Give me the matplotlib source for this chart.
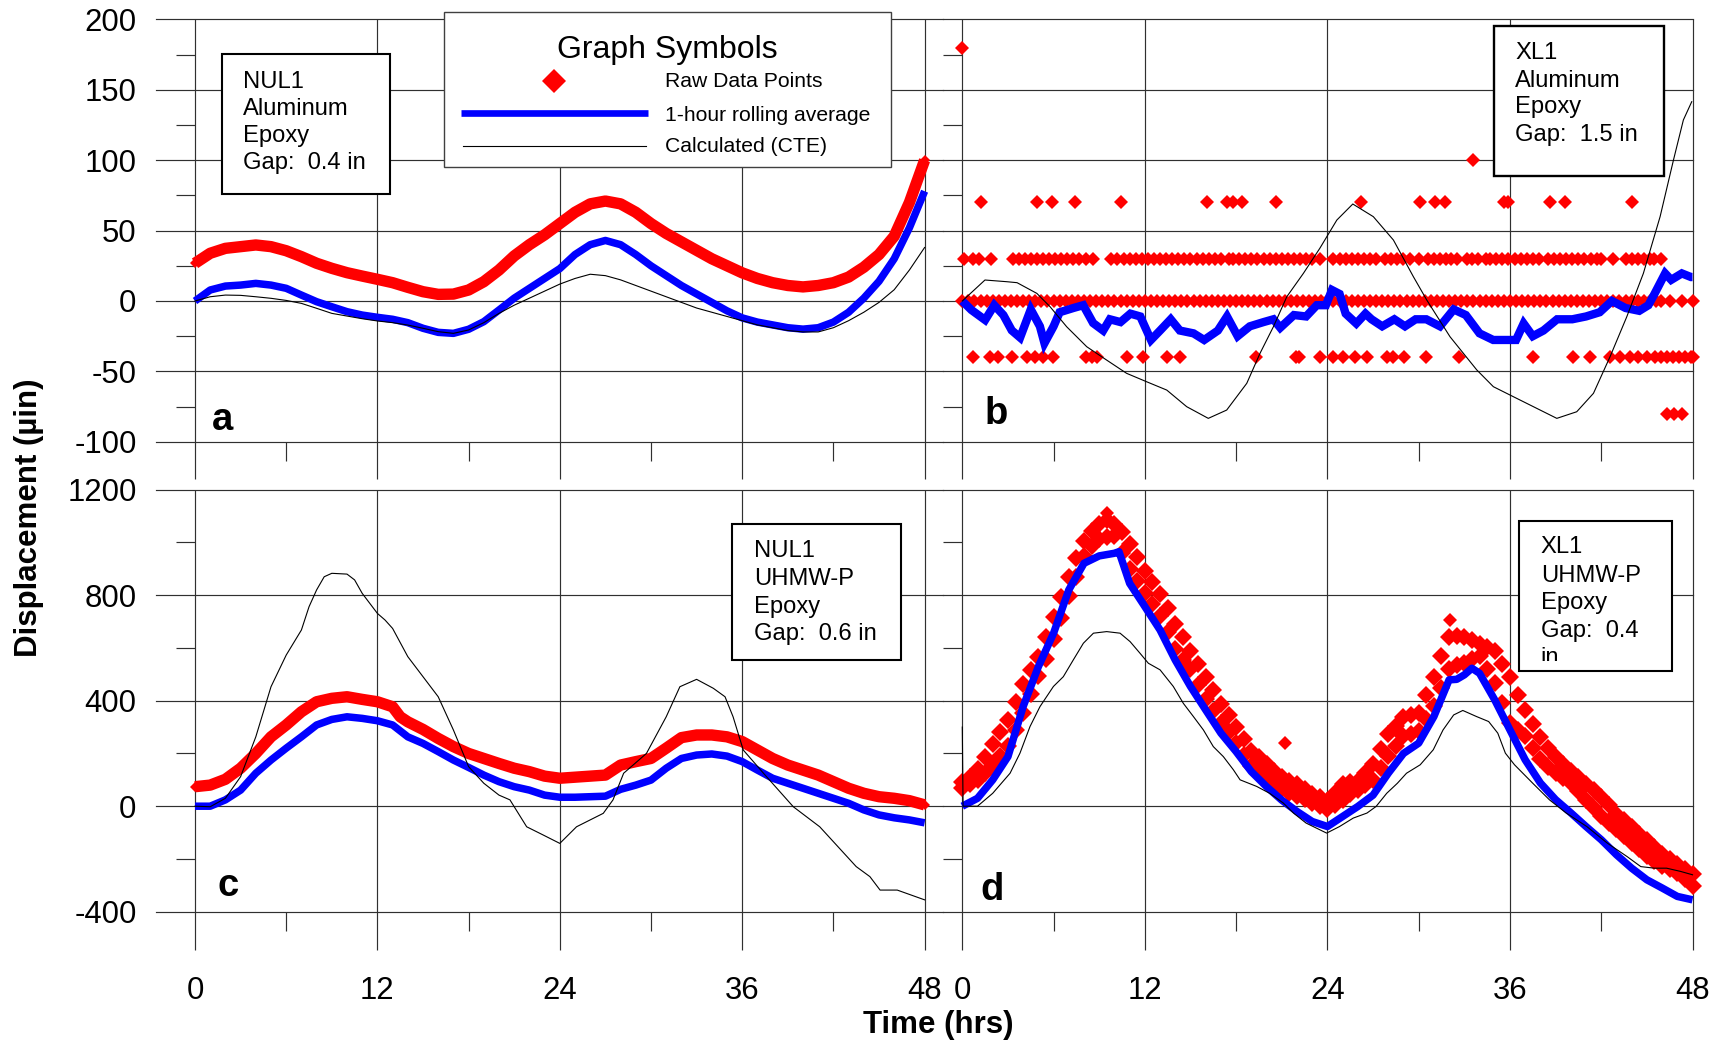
import matplotlib
matplotlib.use("Agg")
import matplotlib.pyplot as plt
from matplotlib.patches import Rectangle
from matplotlib.lines import Line2D
from matplotlib.transforms import Bbox

plt.rcParams['font.family'] = ['Liberation Sans', 'DejaVu Sans']

# ---------------------------------------------------------------- data
hours = [0, 1, 2, 3, 4, 5, 6, 7, 8, 9, 10, 11, 12, 13, 14, 15, 16, 17, 18, 19, 20,
         21, 22, 23, 24, 25, 26, 27, 28, 29, 30, 31, 32, 33, 34, 35, 36, 37, 38, 39,
         40, 41, 42, 43, 44, 45, 46, 47, 48]
x_major = [0, 12, 24, 36, 48]
x_minor = [6, 18, 30, 42]
x_ticklabels = ['0', '12', '24', '36', '48']

# panel a : NUL1 / Aluminum
a_yticks = [200, 150, 100, 50, 0, -50, -100]
a_yminor = [175, 125, 75, 25, -25, -75]
a_raw = [26.8, 33.9, 37.4, 38.6, 39.8, 38.6, 35.7, 31.5, 26.8, 23.2, 20.1, 17.7, 15.4,
         13.0, 9.7, 6.6, 4.7, 4.9, 7.8, 13.7, 22.0, 32, 40, 47, 55, 63, 69, 71, 69, 63,
         55, 48, 42, 36, 30, 25, 20, 16, 13, 11, 10, 11, 13, 17, 24, 33, 46, 70, 100]
a_avg = [0, 7.8, 10.6, 11.3, 12.5, 11.3, 9.0, 4.2, -0.5, -4.1, -7.6, -10, -11.6, -13,
         -15.4, -19.4, -22.3, -23, -20.1, -14.7, -6.4, 2, 9, 16, 23, 33, 40, 43, 40, 33,
         25, 18, 11, 5, -1, -7, -12, -15, -17, -19, -20, -19, -15, -8, 2, 14, 30, 52, 78]
a_cte = [0, 3, 4.2, 4, 3, 1.9, 0.4, -1.7, -5.2, -8.8, -10.7, -12.6, -14.2, -15.4, -17.1,
         -19.4, -21.8, -23, -20.6, -15.4, -8.8, -3, 2, 7, 12, 16, 19, 18, 15, 11, 7, 3,
         -1, -5, -8, -11, -14, -17, -19, -21, -22, -22, -19, -14, -8, -1, 8, 22, 38]

# panel b : XL1 / Aluminum (quantised raw readings, listed per level)
b_raw_0 = [0.0, 0.4, 0.8, 1.2, 1.6, 2.0, 2.4, 2.8, 3.2, 3.6, 4.0, 4.4, 4.8, 5.2, 5.6,
           6.0, 6.4, 6.8, 7.2, 7.6, 8.0, 8.4, 8.8, 9.2, 9.6, 10.0, 10.4, 10.8, 11.2,
           11.6, 12.0, 12.4, 12.8, 13.2, 13.6, 14.0, 14.4, 14.8, 15.2, 15.6, 16.0, 16.4,
           16.8, 17.2, 17.6, 18.0, 18.4, 18.8, 19.2, 19.6, 20.0, 20.4, 20.8, 21.2, 21.6,
           22.0, 22.4, 22.8, 23.2, 23.6, 24.0, 24.4, 24.8, 25.2, 25.6, 26.0, 26.4, 26.8,
           27.2, 27.6, 28.0, 28.4, 28.8, 29.2, 29.6, 30.0, 30.4, 30.8, 31.2, 31.6, 32.0,
           32.4, 32.8, 33.2, 33.6, 34.0, 34.4, 34.8, 35.2, 35.6, 36.0, 36.4, 36.8, 37.2,
           37.6, 38.0, 38.4, 38.8, 39.2, 39.6, 40.0, 40.4, 40.8, 41.2, 41.6, 42.0, 42.4,
           42.8, 43.2, 43.6, 44.0, 44.4, 44.8, 45.2, 45.6, 45.9, 46.5, 47.3, 48.0]
b_raw_30 = [0.1, 0.7, 1.1, 1.9, 3.3, 3.7, 4.1, 4.5, 4.9, 5.3, 5.7, 6.1, 6.5, 6.9, 7.3,
            7.7, 8.1, 8.6, 9.8, 10.2, 10.6, 11.0, 11.4, 11.8, 12.2, 12.6, 13.0, 13.4,
            13.8, 14.2, 14.6, 15.0, 15.4, 15.8, 16.2, 16.6, 17.0, 17.5, 17.8, 18.2, 18.6,
            19.0, 19.4, 19.8, 20.2, 20.6, 21.0, 21.4, 21.8, 22.2, 22.6, 23.0, 23.5, 24.4,
            24.8, 25.2, 25.6, 26.0, 26.4, 26.8, 27.2, 27.8, 28.2, 28.6, 29.0, 29.4, 30.0,
            30.6, 31.0, 31.4, 31.8, 32.1, 32.5, 33.2, 33.5, 33.9, 34.4, 34.7, 35.1, 35.5,
            35.9, 36.3, 36.7, 37.1, 37.5, 37.9, 38.5, 38.9, 39.3, 39.7, 40.1, 40.5, 40.9,
            41.3, 41.7, 42.0, 42.8, 43.6, 44.0, 44.4, 44.8, 45.2, 45.5, 45.9]
b_raw_70 = [1.2, 4.9, 5.9, 7.4, 10.4, 16.1, 17.4, 17.8, 18.4, 20.6, 26.2, 30.1, 31.1,
            31.7, 35.6, 35.9, 38.6, 39.6, 44.0]
b_raw_100 = [33.6]
b_raw_180 = [0.0]
b_raw_m40 = [0.68, 1.82, 2.37, 3.25, 4.28, 4.78, 5.33, 5.98, 8.13, 8.5, 8.84, 10.85,
             11.9, 13.44, 14.31, 19.31, 21.94, 22.16, 23.52, 24.35, 25.05, 25.82, 26.59,
             27.9, 28.34, 29.06, 30.48, 32.68, 37.54, 40.17, 41.27, 42.58, 43.24, 43.9,
             44.45, 45.0, 45.54, 45.9, 46.3, 46.7, 47.1, 47.5, 47.9, 48.0]
b_raw_m80 = [46.31, 46.79, 47.3]
b_avg_t = [0, 0.6, 1.5, 2.1, 2.7, 3.25, 3.8, 4.5, 5.1, 5.4, 6.0, 6.4, 7.3, 7.95, 8.6,
           9.26, 9.7, 10.4, 11.05, 11.7, 12.4, 13.0, 13.7, 14.3, 15.2, 15.9, 16.8, 17.4,
           18.1, 18.9, 19.8, 20.45, 20.9, 21.8, 22.6, 23.3, 23.9, 24.3, 24.8, 25.2, 25.9,
           26.5, 26.9, 27.6, 28.4, 29.1, 29.8, 30.5, 31.4, 32.3, 33.1, 34.0, 34.9, 35.8,
           36.4, 36.9, 37.5, 38.2, 39.1, 40.1, 41.0, 41.9, 42.7, 43.6, 44.5, 45.1, 45.5,
           46.2, 46.6, 47.3, 47.9, 48.0]
b_avg = [0, -6.4, -13.5, -3, -10, -20.9, -26, -6, -18, -30, -18, -8, -5, -3, -15.7, -21,
         -13, -15, -9, -11, -27.7, -21, -13, -21, -23, -27.7, -21, -11, -25, -18, -15,
         -13, -19, -10, -11, -3, -3, 7.8, 5, -9, -16, -9, -13, -18, -13, -18, -13, -13,
         -18, -6, -10, -23, -27.7, -27.7, -27.7, -16, -25, -21, -13, -13, -11, -8, 0, -5,
         -7, -3, 5, 19.6, 15, 19.6, 17, 17]
b_cte_t = [0, 1.49, 2.92, 3.6, 4.9, 5.77, 6.86, 8.18, 9.49, 10.8, 12.12, 13.44, 14.75,
           16.17, 17.38, 18.7, 19.57, 20.45, 21.33, 22.42, 23.5, 24.62, 25.67, 27.02,
           28.34, 29.65, 30.53, 32.06, 33.82, 34.91, 36.0, 37.54, 39.08, 40.39, 41.49,
           42.58, 43.68, 44.77, 45.87, 46.75, 47.4, 47.95]
b_cte = [0, 14.9, 13.7, 13, 5.4, -4.1, -18.3, -32.5, -42, -51.4, -57.4, -63.3, -75.1,
         -83.4, -77.5, -58.5, -37.2, -18.3, 3, 19.6, 37.4, 57.5, 68.9, 59.9, 43.3, 17.3,
         0.7, -25.4, -49, -60.9, -66.8, -75.1, -83.4, -78.7, -65.6, -39.6, -11.2, 19.6,
         59.9, 100.2, 128.6, 141.6]

# panel c : NUL1 / UHMW-P
c_yticks = [1200, 800, 400, 0, -400]
c_yminor = [1000, 600, 200, -200]
c_raw_t = [0, 1, 2, 3, 4, 5, 6, 7, 8, 9, 10, 11, 12, 13, 13.5, 14, 15, 16, 17, 18, 19,
           20, 21, 22, 23, 24, 25, 26, 27, 28, 29, 30, 31, 32, 33, 34, 35, 36, 37, 38,
           39, 40, 41, 42, 43, 44, 45, 46, 47, 48]
c_raw = [74, 80, 102, 144, 200, 263, 308, 358, 396, 409, 415, 405, 396, 377, 339, 320,
         291, 257, 226, 200, 181, 162, 144, 131, 114, 106, 110, 114, 118, 156, 169, 181,
         220, 260, 270, 270, 263, 245, 213, 181, 156, 137, 118, 93, 68, 49, 36, 30, 21, 5]
c_avg = [0, 0, 24, 61, 125, 175, 220, 263, 308, 329, 339, 333, 324, 308, 263, 238, 207,
         175, 147, 118, 93, 74, 61, 42, 34, 34, 36, 38, 64, 80, 99, 144, 181, 194, 198,
         190, 169, 137, 106, 87, 68, 49, 30, 11, -14, -33, -44, -52, -63]
c_cte_t = [0, 1, 2, 3, 4, 5, 6, 7, 7.5, 8, 8.5, 9, 10, 10.5, 11, 12, 12.5, 13, 14, 15, 16,
           17, 18, 19, 20, 20.72, 21.82, 22.9, 24.0, 25.1, 26.86, 27.5, 28.2, 29.7, 31.0,
           31.9, 33.0, 34.1, 34.87, 35.4, 36.07, 37.4, 39.36, 41.1, 43.5, 44.4, 45.07,
           46.2, 47.9, 48.0]
c_cte = [0, -2, 30, 112, 263, 453, 573, 668, 756, 820, 870, 883, 880, 858, 807, 731, 706,
         674, 567, 491, 415, 289, 150, 87, 42, 24, -78, -109, -141, -78, -27, 24, 125,
         200, 339, 453, 481, 447, 415, 339, 213, 125, -2, -78, -229, -267, -318, -318,
         -353, -355]

# panel d : XL1 / UHMW-P
d_raw_t = [0, 0.5, 1, 1.5, 2, 2.5, 3, 3.5, 4, 4.5, 5, 5.5, 6, 6.5, 7, 7.5, 8, 8.5, 9,
           9.5, 10, 10.5, 11, 11.5, 12, 12.5, 13, 13.5, 14, 14.5, 15, 15.5, 16, 16.5, 17,
           17.5, 18, 18.5, 19, 19.5, 20, 20.5, 21, 21.5, 22, 22.5, 23, 23.5, 24, 24.5, 25,
           25.5, 26, 26.5, 27, 27.5, 28, 28.5, 29, 29.5, 30, 30.5, 31, 31.5, 32, 32.5, 33,
           33.5, 34, 34.5, 35, 35.5, 36, 36.5, 37, 37.5, 38, 38.5, 39, 39.5, 40, 40.5, 41,
           41.5, 42, 42.5, 43, 43.5, 44, 44.5, 45, 45.5, 46, 46.5, 47, 47.5, 48]
d_raw_hi = [90, 112, 140, 185, 236, 280, 325, 395, 464, 515,
            565, 640, 716, 795, 868, 940, 1007, 1045, 1070, 1085,
            1070, 1040, 994, 945, 893, 850, 805, 750, 691, 640,
            590, 540, 489, 440, 388, 345, 300, 255, 211, 185,
            161, 135, 110, 97, 84, 64, 46, 33, 21, 50,
            84, 90, 96, 125, 161, 215, 275, 305, 337, 345,
            355, 420, 489, 570, 641, 645, 641, 630, 615, 605,
            590, 540, 489, 420, 363, 310, 262, 222, 185, 160,
            135, 110, 84, 60, 34, 3, -29, -54, -79, -104,
            -130, -155, -180, -199, -218, -237, -256]
d_raw_lo = [70, 84, 101, 125, 152, 190, 229, 290, 355, 425,
            494, 560, 633, 715, 797, 870, 948, 985, 1012, 1020,
            1024, 960, 898, 855, 810, 765, 721, 660, 595, 555,
            519, 460, 405, 360, 317, 280, 241, 195, 152, 128,
            101, 82, 64, 50, 38, 26, 14, 0, -12, 5,
            25, 45, 63, 80, 101, 145, 191, 230, 266, 275,
            285, 330, 380, 450, 519, 535, 544, 560, 570, 520,
            469, 390, 317, 290, 266, 220, 178, 150, 127, 108,
            89, 57, 25, -5, -37, -62, -87, -112, -138, -163,
            -188, -207, -226, -239, -252, -277, -302]
d_out_t = [9.5, 21.2, 32.05]
d_out = [1113, 241, 706]
d_avg_t = [0, 1, 2, 3, 4, 5, 6, 7, 8, 9, 10, 10.3, 11, 12, 13, 14, 15, 16, 17, 18, 19,
           20, 21, 22, 23, 24, 25, 26, 27, 28, 29, 30, 31, 32, 32.5, 33, 33.5, 34, 35, 36,
           37, 38, 39, 40, 41, 42, 43, 44, 45, 46, 47, 48]
d_avg = [0, 30, 100, 188, 378, 529, 656, 820, 921, 949, 959, 965, 845, 757, 668, 554,
         454, 365, 277, 207, 131, 74, 23, -20, -58, -77, -39, -1, 42, 125, 200, 239, 340,
         479, 481, 498, 523, 504, 403, 289, 176, 88, 25, -25, -77, -127, -184, -235, -279,
         -310, -342, -355]
d_cte_t = [0, 0.05, 1.0, 2.0, 3.14, 3.79, 4.45, 5.11, 5.99, 6.64, 7.3, 7.96, 8.62, 9.49,
           10.37, 11.03, 11.68, 12.23, 13.0, 13.87, 14.53, 15.19, 15.85, 16.5, 17.16,
           17.82, 18.26, 19.35, 20.2, 21.1, 21.77, 22.6, 23.95, 24.8, 25.7, 26.6, 27.2,
           27.9, 28.6, 29.2, 30.1, 30.96, 31.6, 32.3, 32.9, 33.8, 34.6, 35.2, 35.7, 36.3,
           37.5, 38.6, 39.7, 41.05, 42.4, 43.7, 44.6, 45.5, 46.3, 47.2, 48.0]
d_cte = [300, 0, 0, 49, 125, 201, 302, 378, 454, 491, 555, 618, 656, 662, 656, 624, 580,
         542, 517, 454, 390, 340, 289, 226, 188, 138, 100, 75, 49, 12, -26, -64, -102,
         -77, -45, -26, -1, 49, 87, 125, 157, 214, 289, 346, 363, 340, 321, 277, 201,
         157, 87, 24, -26, -77, -140, -191, -229, -235, -235, -247, -260]

box_a = ['NUL1', 'Aluminum', 'Epoxy', 'Gap:  0.4 in']
box_b = ['XL1', 'Aluminum', 'Epoxy', 'Gap:  1.5 in']
box_c = ['NUL1', 'UHMW-P', 'Epoxy', 'Gap:  0.6 in']
box_d = ['XL1', 'UHMW-P', 'Epoxy', 'Gap:  0.4', 'in']
legend_labels = ['Raw Data Points', '1-hour rolling average', 'Calculated (CTE)']

# ---------------------------------------------------------------- layout
W, H = 1718, 1043
fig = plt.figure(figsize=(W / 100, H / 100), dpi=100)
fig.patch.set_facecolor('white')


def fx(px):
    return px / W


def fy(py):
    return 1 - py / H


def rect(x0, x1, y0, y1):
    return [x0 / W, 1 - y1 / H, (x1 - x0) / W, (y1 - y0) / H]


GRID = '#303030'
GLW = 0.85
RED, BLUE = '#ff0000', '#0000ff'

ax_a = fig.add_axes(rect(156, 943, 19.5, 479.3))
ax_b = fig.add_axes(rect(943, 1692.5, 19.5, 479.3))
ax_c = fig.add_axes(rect(156, 943, 489.7, 950))
ax_d = fig.add_axes(rect(943, 1692.5, 489.7, 950))

TOP_LIM = (-126.7, 200)
BOT_LIM = (-545.2, 1200)
LEFT_X = (-2.566, 49.21)
RIGHT_X = (-1.269, 48.0)

for ax, xl, yl in [(ax_a, LEFT_X, TOP_LIM), (ax_b, RIGHT_X, TOP_LIM),
                   (ax_c, LEFT_X, BOT_LIM), (ax_d, RIGHT_X, BOT_LIM)]:
    ax.set_xlim(*xl)
    ax.set_ylim(*yl)
    for s in ax.spines.values():
        s.set_visible(False)
    ax.patch.set_visible(False)
    ax.set_xticks([])
    ax.set_yticks([])


def frame(ax, majors, minors, y_top, y_ext, y_base, y_minor_end):
    for y in majors:
        ax.axhline(y, color=GRID, lw=GLW, zorder=1, clip_on=False)
    ax.hlines(minors, -1.27, 0, colors=GRID, lw=GLW, zorder=1, clip_on=False)
    ax.vlines(x_major, y_ext, y_top, colors=GRID, lw=GLW, zorder=1, clip_on=False)
    ax.vlines(x_minor, y_minor_end, y_base, colors=GRID, lw=GLW, zorder=1, clip_on=False)


for ax in (ax_a, ax_b):
    frame(ax, a_yticks, a_yminor, 200, TOP_LIM[0], -100, -113.5)
for ax in (ax_c, ax_d):
    frame(ax, c_yticks, c_yminor, 1200, BOT_LIM[0], -400, -473)

TICK_FS = 22.4
ax_a.set_yticks(a_yticks)
ax_a.set_yticklabels([str(v) for v in a_yticks])
ax_c.set_yticks(c_yticks)
ax_c.set_yticklabels([str(v) for v in c_yticks])
for ax in (ax_a, ax_c):
    ax.tick_params(axis='y', length=0, pad=14, labelsize=TICK_FS)
for ax in (ax_c, ax_d):
    ax.set_xticks(x_major)
    ax.set_xticklabels(x_ticklabels)
    ax.tick_params(axis='x', length=0, pad=19, labelsize=TICK_FS)

RAW_LW = 8.2
AVG_LW = 5.4
CTE_LW = 0.8
MS_B = 7.4
MS_D = 9.0

# panel a
ax_a.plot(hours, a_raw, color=RED, lw=RAW_LW, marker='D', ms=5.3, mew=0,
          solid_joinstyle='round', solid_capstyle='butt', zorder=3, clip_on=False)
ax_a.plot(hours, a_avg, color=BLUE, lw=AVG_LW, solid_joinstyle='round',
          solid_capstyle='butt', zorder=4, clip_on=False)
ax_a.plot(hours, a_cte, color='black', lw=CTE_LW, zorder=5, clip_on=False)

# panel b
for xs, lvl in [(b_raw_0, 0), (b_raw_30, 30), (b_raw_70, 70), (b_raw_100, 100),
                (b_raw_180, 180), (b_raw_m40, -40), (b_raw_m80, -80)]:
    ax_b.plot(xs, [lvl] * len(xs), ls='none', marker='D', ms=MS_B, mew=0, color=RED,
              zorder=3, clip_on=False)
ax_b.plot(b_avg_t, b_avg, color=BLUE, lw=AVG_LW + 0.6, solid_joinstyle='miter',
          solid_capstyle='butt', zorder=4, clip_on=False)
ax_b.plot(b_cte_t, b_cte, color='black', lw=CTE_LW, zorder=5, clip_on=False)

# panel c
ax_c.plot(c_raw_t, c_raw, color=RED, lw=RAW_LW, marker='D', ms=5.3, mew=0,
          solid_joinstyle='round', solid_capstyle='butt', zorder=3, clip_on=False)
ax_c.plot(hours, c_avg, color=BLUE, lw=AVG_LW, solid_joinstyle='round',
          solid_capstyle='butt', zorder=4, clip_on=False)
ax_c.plot(c_cte_t, c_cte, color='black', lw=CTE_LW, zorder=5, clip_on=False)

# panel d
ax_d.plot(d_raw_t, d_raw_hi, ls='none', marker='D', ms=MS_D, mew=0, color=RED,
          zorder=3, clip_on=False)
ax_d.plot(d_raw_t, d_raw_lo, ls='none', marker='D', ms=MS_D, mew=0, color=RED,
          zorder=3, clip_on=False)
ax_d.plot(d_out_t, d_out, ls='none', marker='D', ms=MS_B, mew=0, color=RED,
          zorder=3, clip_on=False)
ax_d.plot(d_avg_t, d_avg, color=BLUE, lw=AVG_LW, solid_joinstyle='round',
          solid_capstyle='butt', zorder=4, clip_on=False)
ax_d.plot(d_cte_t, d_cte, color='black', lw=CTE_LW, zorder=5, clip_on=False)

# panel letters
LET_FS = 27.5
ax_a.text(1.1, -91.7, 'a', fontsize=LET_FS, fontweight='bold', va='baseline', zorder=6)
ax_b.text(1.45, -87.4, 'b', fontsize=LET_FS, fontweight='bold', va='baseline', zorder=6)
ax_c.text(1.47, -340, 'c', fontsize=LET_FS, fontweight='bold', va='baseline', zorder=6)
ax_d.text(1.16, -355.6, 'd', fontsize=LET_FS, fontweight='bold', va='baseline', zorder=6)

# axis titles
fig.text(fx(29), fy(517.6), 'Displacement (\u00b5in)', rotation=90, ha='center',
         va='center', fontsize=22.5, fontweight='bold')
fig.text(fx(937.8), fy(1033.3), 'Time (hrs)', ha='center', va='baseline',
         fontsize=22.5, fontweight='bold')


# info boxes
def info_box(x0, x1, y0, y1, lines, tx, baselines, lw=1.5, clip_y=None):
    fig.add_artist(Rectangle((fx(x0), fy(y1)), (x1 - x0) / W, (y1 - y0) / H,
                             transform=fig.transFigure, facecolor='white',
                             edgecolor='black', lw=lw, zorder=5))
    for s, b in zip(lines, baselines):
        t = fig.text(fx(tx), fy(b), s, fontsize=17.1, ha='left', va='baseline', zorder=6)
        if clip_y is not None:
            t.set_clip_box(Bbox.from_extents(x0, H - clip_y, x1, H - y0))
            t.set_clip_on(True)


info_box(222, 390.3, 53.7, 194, box_a, 243, [88.3, 115, 141.7, 169.3])
info_box(1494.3, 1664.3, 25.7, 175.7, box_b, 1515, [59.3, 86.7, 113.3, 140.7], lw=1.7)
info_box(732.3, 901, 524.3, 660.3, box_c, 753.7, [557.3, 585, 612.7, 640])
info_box(1519.3, 1672.3, 520.7, 670.7, box_d, 1540.7,
         [553.3, 581.7, 609, 636.7, 664.3], clip_y=661)

# legend ("Graph Symbols")
fig.add_artist(Rectangle((fx(444), fy(166.7)), (891.3 - 444) / W, (166.7 - 11.7) / H,
                         transform=fig.transFigure, facecolor='white',
                         edgecolor='#404040', lw=1.0, zorder=5))
fig.text(fx(667.5), fy(58.3), 'Graph Symbols', ha='center', va='baseline',
         fontsize=23, zorder=6)
fig.add_artist(Line2D([fx(554.3)], [fy(80.7)], marker='D', ms=12.5, mew=0, color=RED,
                      ls='none', transform=fig.transFigure, zorder=6))
fig.add_artist(Line2D([fx(460.7), fx(648.3)], [fy(113.3), fy(113.3)], color=BLUE,
                      lw=4.8, solid_capstyle='butt', transform=fig.transFigure, zorder=6))
fig.add_artist(Line2D([fx(463.3), fx(645.7)], [fy(145.7), fy(145.7)], color='black',
                      lw=0.8, transform=fig.transFigure, zorder=6))
for s, b in zip(legend_labels, [87.3, 120.7, 152.3]):
    fig.text(fx(665), fy(b), s, fontsize=15.2, ha='left', va='baseline', zorder=6)

fig.savefig('out.png', dpi=100, facecolor='white')
